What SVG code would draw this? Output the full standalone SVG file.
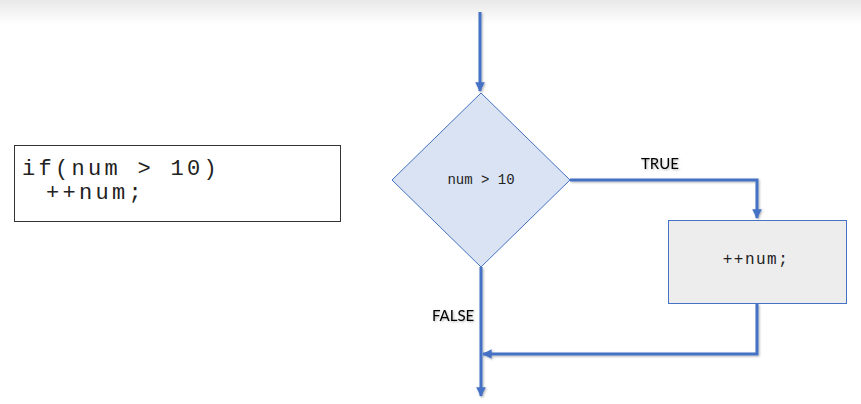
<svg xmlns="http://www.w3.org/2000/svg" width="861" height="404" viewBox="0 0 861 404">
<defs>
<linearGradient id="topfade" x1="0" y1="0" x2="0" y2="1">
<stop offset="0" stop-color="#e8e8e8"/>
<stop offset="1" stop-color="#ffffff"/>
</linearGradient>
<marker id="arrow" viewBox="0 0 10 10" refX="9" refY="5" markerWidth="3.2" markerHeight="3.2" markerUnits="strokeWidth" orient="auto">
<path d="M0,0 L10,5 L0,10 z" fill="#4472c4"/>
</marker>
<filter id="shadow" x="-20%" y="-20%" width="140%" height="160%">
<feDropShadow dx="1" dy="1" stdDeviation="0.8" flood-color="#000" flood-opacity="0.3"/>
</filter>
</defs>
<style>
.conn{fill:none;stroke:#4472c4;stroke-width:3;}
.mono{font-family:"Liberation Mono","Courier New",monospace;fill:#222;}
.lbl{font-family:Lato,"Liberation Sans",Arial,sans-serif;font-size:15px;fill:#000;}
</style>
<rect x="0" y="0" width="861" height="404" fill="#ffffff"/>
<rect x="0" y="0" width="861" height="24" fill="url(#topfade)"/>

<g id="code">
<rect x="14.5" y="145.5" width="326" height="76" fill="#ffffff" stroke="#333" stroke-width="1"/>
<text class="mono" x="22" y="175" font-size="22" letter-spacing="3.3">if(num &gt; 10)</text>
<text class="mono" x="46" y="199" font-size="22" letter-spacing="3.3">++num;</text>
</g>

<g id="connectors" filter="url(#shadow)">
<path class="conn" d="M480,12 L480,91" marker-end="url(#arrow)"/>
<path class="conn" d="M570,180 L757,180 L757,218" marker-end="url(#arrow)"/>
<path class="conn" d="M481,267 L481,396" marker-end="url(#arrow)"/>
<path class="conn" d="M757,304 L757,354 L483,354" marker-end="url(#arrow)"/>
</g>

<g id="decision">
<polygon points="481,93 570,180 481,267 392,180" fill="#dae3f3" stroke="#4472c4" stroke-width="1"/>
<text class="mono" x="481" y="184" font-size="14" text-anchor="middle">num &gt; 10</text>
</g>

<g id="increment">
<rect x="668.5" y="220.5" width="178" height="83" fill="#ededed" stroke="#4472c4" stroke-width="1"/>
<text class="mono" x="756" y="264" font-size="16" letter-spacing="1.5" text-anchor="middle">++num;</text>
</g>

<g id="labels" filter="url(#shadow)">
<text class="lbl" x="641" y="169">TRUE</text>
<text class="lbl" x="432" y="321">FALSE</text>
</g>
</svg>
